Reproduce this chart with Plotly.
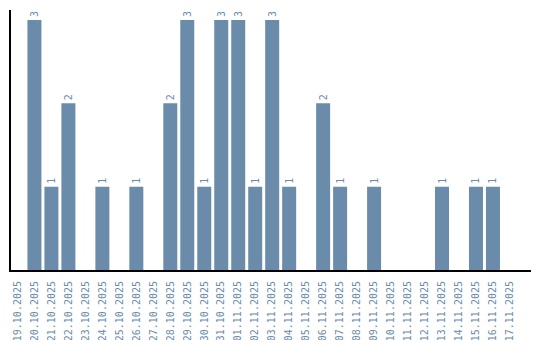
import plotly.graph_objects as go

dates = ["19.10.2025", "20.10.2025", "21.10.2025", "22.10.2025", "23.10.2025",
         "24.10.2025", "25.10.2025", "26.10.2025", "27.10.2025", "28.10.2025",
         "29.10.2025", "30.10.2025", "31.10.2025", "01.11.2025", "02.11.2025",
         "03.11.2025", "04.11.2025", "05.11.2025", "06.11.2025", "07.11.2025",
         "08.11.2025", "09.11.2025", "10.11.2025", "11.11.2025", "12.11.2025",
         "13.11.2025", "14.11.2025", "15.11.2025", "16.11.2025", "17.11.2025"]
counts = [0, 3, 1, 2, 0, 1, 0, 1, 0, 2, 3, 1, 3, 3, 1, 3, 1, 0, 2, 1,
          0, 1, 0, 0, 0, 1, 0, 1, 1, 0]

BLUE = "#6a8caa"
labels = [str(v) if v else "" for v in counts]

fig = go.Figure(go.Bar(
    x=dates, y=counts, text=labels, textposition="outside", textangle=-90,
    textfont=dict(family="DejaVu Sans Mono", size=10, color=BLUE),
    marker=dict(color=BLUE, line=dict(width=0)), cliponaxis=False,
))
fig.update_layout(
    width=540, height=340, margin=dict(l=10.5, r=9, t=10, b=70),
    paper_bgcolor="white", plot_bgcolor="white", bargap=0.176, showlegend=False,
    font=dict(family="DejaVu Sans Mono", size=10, color=BLUE),
)
fig.update_xaxes(type="category", range=[-0.38, 30.24], tickangle=-90,
                 showline=True, linecolor="black", linewidth=2, ticks="",
                 ticklabelstandoff=5, automargin=False, showgrid=False,
                 tickfont=dict(family="DejaVu Sans Mono", size=10, color=BLUE))
fig.update_yaxes(range=[0, 3.12], showline=True, linecolor="black", linewidth=2,
                 showticklabels=False, ticks="", showgrid=False, zeroline=False,
                 automargin=False)
fig.write_html("out.html")
